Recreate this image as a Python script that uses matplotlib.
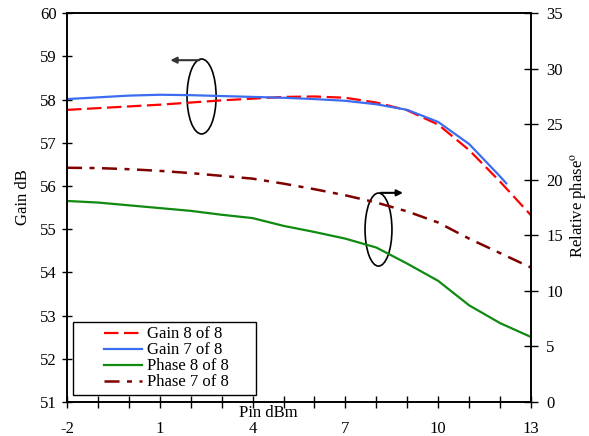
import numpy as np
import matplotlib
matplotlib.use("Agg")
import matplotlib.pyplot as plt
from matplotlib.patches import Ellipse, Rectangle

plt.rcParams['font.family'] = ['Liberation Serif', 'DejaVu Serif']
plt.rcParams['mathtext.fontset'] = 'stix'
plt.rcParams['axes.unicode_minus'] = False

# Pin (dBm) sweep
pin = [-2, -1, 0, 1, 2, 3, 4, 5, 6, 7, 8, 9, 10, 11, 12, 13]
pin_g7 = [-2, -1, 0, 1, 2, 3, 4, 5, 6, 7, 8, 9, 10, 11, 12, 12.2]

gain_8of8 = [57.76, 57.80, 57.84, 57.88, 57.93, 57.98, 58.02, 58.06, 58.07, 58.04,
             57.93, 57.75, 57.42, 56.83, 56.10, 55.32]
gain_7of8 = [58.01, 58.05, 58.09, 58.11, 58.10, 58.08, 58.06, 58.04, 58.01, 57.97,
             57.89, 57.76, 57.48, 56.97, 56.22, 56.06]
phase_8of8 = [18.09, 17.95, 17.70, 17.45, 17.20, 16.85, 16.55, 15.85, 15.30, 14.70,
              13.90, 12.45, 10.90, 8.70, 7.10, 5.85]
phase_7of8 = [21.08, 21.05, 20.95, 20.80, 20.60, 20.35, 20.10, 19.65, 19.15, 18.60,
              17.95, 17.15, 16.15, 14.70, 13.40, 12.10]

fig = plt.figure(figsize=(5.89, 4.36), dpi=100)
ax1 = fig.add_axes([0.1138, 0.078, 0.7877, 0.892])
ax2 = ax1.twinx()

l1, = ax1.plot(pin, gain_8of8, color='#ff0000', lw=1.6, dashes=(6.5, 2.5), label='Gain 8 of 8')
l2, = ax1.plot(pin_g7, gain_7of8, color='#3c6cf0', lw=1.6, label='Gain 7 of 8')
l3, = ax2.plot(pin, phase_8of8, color='#108a10', lw=1.6, label='Phase 8 of 8')
l4, = ax2.plot(pin, phase_7of8, color='#800000', lw=1.8, dashes=(6, 3, 2, 3), label='Phase 7 of 8')

ax1.set_xlim(-2, 13)
ax1.set_ylim(51, 60)
ax2.set_ylim(0, 35)
ax1.set_xticks([-2, 1, 4, 7, 10, 13])
ax1.set_xticks(np.arange(-2, 14, 1), minor=True)
ax1.set_yticks(np.arange(51, 61, 1))
ax2.set_yticks(np.arange(0, 36, 5))

ax1.tick_params(axis='x', which='both', direction='inout', length=8, width=1,
                pad=10, labelsize=12)
ax1.tick_params(axis='y', direction='inout', length=7, width=1, pad=4, labelsize=12)
ax2.tick_params(axis='y', direction='inout', length=10, width=1, pad=6, labelsize=12)
for a in (ax1, ax2):
    for s in a.spines.values():
        s.set_linewidth(1.2)

ax1.text(4.5, -0.029, 'Pin dBm', transform=ax1.get_xaxis_transform(),
         ha='center', va='center', fontsize=12)
fig.text(23 / 589, 1 - 197 / 436, 'Gain dB', rotation=90, ha='center', va='center',
         fontsize=12)
fig.text(579 / 589, 1 - 205 / 436, r'Relative phase$^{\mathrm{o}}$', rotation=90,
         ha='center', va='center', fontsize=12)

# ellipses with arrows pointing to the relevant axis
ax1.add_patch(Ellipse((2.35, 58.07), 0.94, 1.735, fill=False, lw=1.2, color='black'))
ax1.annotate('', xy=(1.25, 58.91), xytext=(2.37, 58.91),
             arrowprops=dict(arrowstyle='-|>', color='#333333', lw=1.5, mutation_scale=9))
ax1.add_patch(Ellipse((8.07, 54.99), 0.87, 1.69, fill=False, lw=1.2, color='black'))
ax1.annotate('', xy=(8.95, 55.84), xytext=(8.05, 55.84),
             arrowprops=dict(arrowstyle='-|>', color='black', lw=1.5, mutation_scale=9))

ax2.add_patch(Rectangle((0.013, 0.018), 0.394, 0.188, transform=ax2.transAxes,
                        facecolor='white', edgecolor='black', lw=1, zorder=4))
leg = ax2.legend(handles=[l1, l2, l3, l4], loc='center', bbox_to_anchor=(0.214, 0.112),
                 frameon=False, fontsize=12, labelspacing=0.0, handlelength=2.3,
                 handletextpad=0.3, borderpad=0.1)
leg.set_zorder(5)

fig.savefig('out.png', dpi=100)
